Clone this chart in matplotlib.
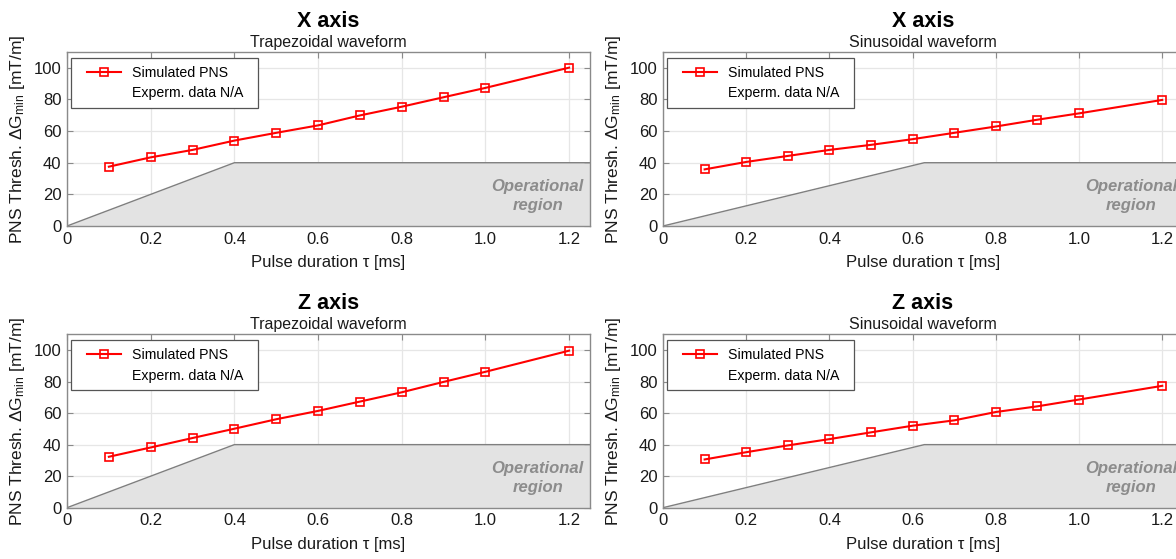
import matplotlib
matplotlib.use("Agg")
import matplotlib.pyplot as plt
from matplotlib.lines import Line2D
from matplotlib.legend_handler import HandlerLine2D

plt.rcParams['font.family'] = ['Liberation Sans', 'DejaVu Sans']
plt.rcParams['mathtext.fontset'] = 'custom'
plt.rcParams['mathtext.rm'] = 'Liberation Sans'
plt.rcParams['mathtext.it'] = 'Liberation Sans:italic'

# Pulse durations [ms]
tau = [0.1, 0.2, 0.3, 0.4, 0.5, 0.6, 0.7, 0.8, 0.9, 1.0, 1.2]

# Simulated PNS thresholds [mT/m]
x_trap = [37.5, 43.4, 48.1, 54.0, 58.9, 63.6, 69.9, 75.4, 81.4, 87.3, 100.1]
x_sin = [35.8, 40.5, 44.3, 48.1, 51.3, 54.9, 58.9, 62.9, 67.2, 71.2, 79.7]
z_trap = [32.3, 38.2, 44.2, 50.1, 56.1, 61.4, 67.3, 73.2, 79.8, 86.2, 99.6]
z_sin = [30.6, 35.2, 39.5, 43.5, 47.8, 52.0, 55.4, 60.7, 64.3, 68.6, 77.3]

# Operational region: slew-limited ramp up to the gradient limit
g_max = 40
ramp_trap = 0.4
ramp_sin = 0.628

titles = ["X axis", "X axis", "Z axis", "Z axis"]
subtitles = ["Trapezoidal waveform", "Sinusoidal waveform",
             "Trapezoidal waveform", "Sinusoidal waveform"]
series = [x_trap, x_sin, z_trap, z_sin]
ramps = [ramp_trap, ramp_sin, ramp_trap, ramp_sin]

xticks = [0, 0.2, 0.4, 0.6, 0.8, 1.0, 1.2]
xticklabels = ["0", "0.2", "0.4", "0.6", "0.8", "1.0", "1.2"]
yticks = [0, 20, 40, 60, 80, 100]

fig = plt.figure(figsize=(11.76, 5.59), dpi=100)

positions = [
    [0.057, 0.5957, 0.4447, 0.3113],
    [0.5638, 0.5957, 0.4422, 0.3113],
    [0.057, 0.0918, 0.4447, 0.3102],
    [0.5638, 0.0918, 0.4422, 0.3102],
]

spine_col = "#8a8a8a"
red = "#ff0000"
x_max = 1.25

for pos, title, sub, vals, ramp in zip(positions, titles, subtitles, series, ramps):
    ax = fig.add_axes(pos)
    ax.set_xlim(0, x_max)
    ax.set_ylim(0, 110)
    ax.grid(True, color="#e6e6e6", linewidth=0.9, zorder=0)
    ax.set_axisbelow(True)

    # Operational region
    ox = [0, ramp, x_max]
    oy = [0, g_max, g_max]
    ax.fill_between(ox, 0, oy, color="#e3e3e3", zorder=1, linewidth=0)
    ax.plot(ox, oy, color="#7f7f7f", linewidth=1.0, zorder=2)
    ax.text(1.125, 19, "Operational\nregion", ha="center", va="center",
            fontsize=12, fontweight="bold", fontstyle="italic",
            color="#8c8c8c", linespacing=1.3, zorder=3)

    ax.plot(tau, vals, color=red, linewidth=1.5, marker="s", markersize=5.5,
            markerfacecolor="none", markeredgecolor=red, markeredgewidth=1.2,
            zorder=4)

    ax.set_xticks(xticks)
    ax.set_xticklabels(xticklabels)
    ax.set_yticks(yticks)
    ax.tick_params(direction="in", length=4, width=0.8, color=spine_col,
                   labelsize=12, labelcolor="#1a1a1a", top=True, right=True,
                   pad=4)
    for s in ax.spines.values():
        s.set_color(spine_col)
        s.set_linewidth(1.0)

    ax.set_xlabel(r"Pulse duration τ [ms]", fontsize=12, labelpad=6,
                  color="#1a1a1a")
    ax.set_ylabel(r"PNS Thresh. ΔG$_{\mathrm{min}}$ [mT/m]", fontsize=12.5,
                  labelpad=5, color="#1a1a1a")

    ax.text(0.5, 1.012, sub, transform=ax.transAxes, ha="center", va="bottom",
            fontsize=11.5, color="#1a1a1a")
    ax.text(0.5, 1.115, title, transform=ax.transAxes, ha="center",
            va="bottom", fontsize=15.5, fontweight="bold", color="#000000")

    sim_handle = Line2D([], [], color=red, linewidth=1.5, marker="s",
                        markersize=5.5, markerfacecolor="none",
                        markeredgecolor=red, markeredgewidth=1.2)
    na_handle = Line2D([], [], linestyle="none", marker=None)
    leg = ax.legend([sim_handle, na_handle],
                    ["Simulated PNS", "Experm. data N/A  "],
                    handler_map={sim_handle: HandlerLine2D(xpad=0.58)},
                    loc="upper left", bbox_to_anchor=(0.007, 0.965),
                    fontsize=10.2, frameon=True, fancybox=False,
                    edgecolor="#555555", framealpha=1, handlelength=3.03,
                    handletextpad=0.77, borderpad=0.55, labelspacing=0.45,
                    borderaxespad=0)
    leg.get_frame().set_linewidth(0.9)
    leg.set_zorder(5)

fig.savefig("out.png", dpi=100)
